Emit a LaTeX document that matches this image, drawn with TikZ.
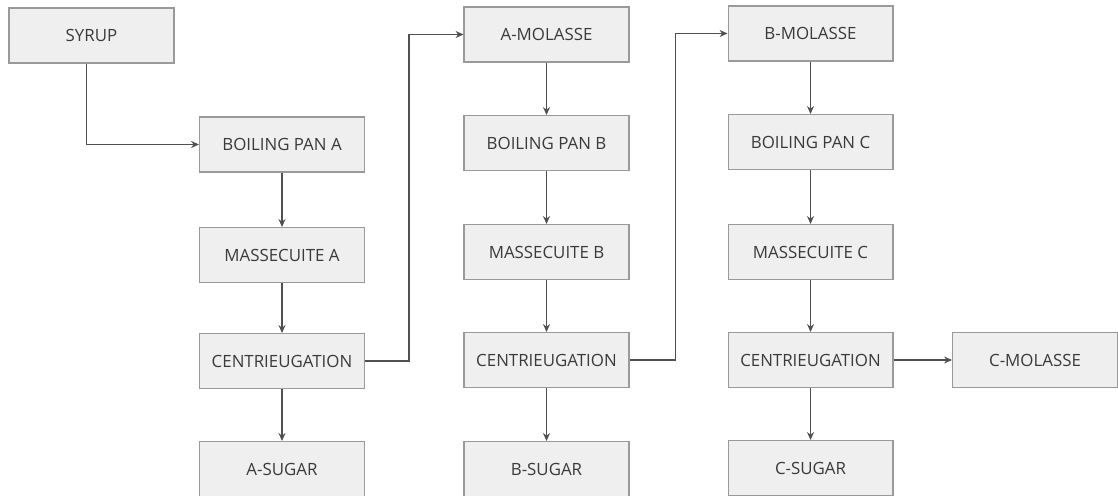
\documentclass[tikz,border=0pt]{standalone}
\usepackage{fontspec}
\setmainfont{Open Sans}
\usetikzlibrary{arrows.meta}
\definecolor{boxfill}{HTML}{EFEFEF}
\definecolor{boxline}{HTML}{9A9A9A}
\definecolor{inkline}{HTML}{505050}
\definecolor{inktext}{HTML}{3A3A3A}
\begin{document}
\begin{tikzpicture}[x=0.02cm,y=-0.02cm,
  stage/.style={draw=boxline, fill=boxfill, line width=0.6pt,
    minimum width=3.3cm, minimum height=1.1cm, inner sep=0pt,
    font=\fontsize{9.6}{11}\selectfont, text=inktext},
  flow/.style={draw=inkline, line width=0.6pt,
    -{Stealth[length=4.5pt,width=4pt]}}]
\useasboundingbox (0,0) rectangle (1118,496);

% first strike
\node[stage] (syrup) at (91.5,35.5)  {SYRUP};
\node[stage] (bpA)   at (282,144.5)  {BOILING PAN A};
\node[stage] (msA)   at (282,255)    {MASSECUITE A};
\node[stage] (cfA)   at (282,361)    {CENTRIEUGATION};
\node[stage] (sgA)   at (282,469)    {A-SUGAR};

% second strike
\node[stage] (molA)  at (546.5,34.5) {A-MOLASSE};
\node[stage] (bpB)   at (546.5,143)  {BOILING PAN B};
\node[stage] (msB)   at (546.5,252)  {MASSECUITE B};
\node[stage] (cfB)   at (546.5,360)  {CENTRIEUGATION};
\node[stage] (sgB)   at (546.5,469)  {B-SUGAR};

% third strike
\node[stage] (molB)  at (810.5,33.5) {B-MOLASSE};
\node[stage] (bpC)   at (810.5,142)  {BOILING PAN C};
\node[stage] (msC)   at (810.5,252)  {MASSECUITE C};
\node[stage] (cfC)   at (810.5,360)  {CENTRIEUGATION};
\node[stage] (sgC)   at (810.5,468)  {C-SUGAR};
\node[stage] (molC)  at (1035,360)   {C-MOLASSE};

% connectors
\draw[flow] ([xshift=-0.1cm]syrup.south) |- (bpA.west);
\draw[flow] (bpA) -- (msA);
\draw[flow] (msA) -- (cfA);
\draw[flow] (cfA) -- (sgA);
\draw[flow] (cfA.east) -- ++(0.88cm,0) |- (molA.west);

\draw[flow] (molA) -- (bpB);
\draw[flow] (bpB) -- (msB);
\draw[flow] (msB) -- (cfB);
\draw[flow] (cfB) -- (sgB);
\draw[flow] (cfB.east) -- ++(0.92cm,0) |- (molB.west);

\draw[flow] (molB) -- (bpC);
\draw[flow] (bpC) -- (msC);
\draw[flow] (msC) -- (cfC);
\draw[flow] (cfC) -- (sgC);
\draw[flow] (cfC) -- (molC);
\end{tikzpicture}
\end{document}
